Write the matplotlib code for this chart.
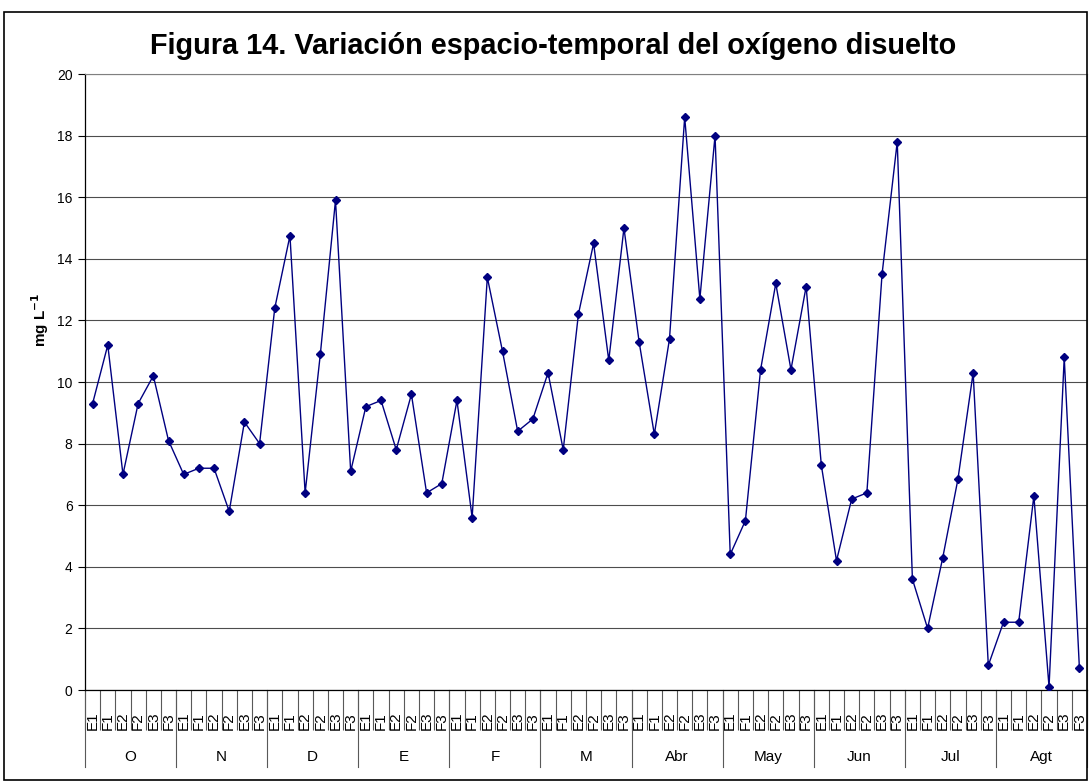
import numpy as np
import matplotlib
matplotlib.use('Agg')
import matplotlib.pyplot as plt
import matplotlib.transforms as mtrans
from matplotlib.patches import Rectangle

months = ['O', 'N', 'D', 'E', 'F', 'M', 'Abr', 'May', 'Jun', 'Jul', 'Agt']
stations = ['E1', 'F1', 'E2', 'F2', 'E3', 'F3']

oxygen_O = [9.3, 11.2, 7.0, 9.3, 10.2, 8.1]
oxygen_N = [7.0, 7.2, 7.2, 5.8, 8.7, 8.0]
oxygen_D = [12.4, 14.75, 6.4, 10.9, 15.9, 7.1]
oxygen_E = [9.2, 9.4, 7.8, 9.6, 6.4, 6.7]
oxygen_F = [9.4, 5.6, 13.4, 11.0, 8.4, 8.8]
oxygen_M = [10.3, 7.8, 12.2, 14.5, 10.7, 15.0]
oxygen_Abr = [11.3, 8.3, 11.4, 18.6, 12.7, 18.0]
oxygen_May = [4.4, 5.5, 10.4, 13.2, 10.4, 13.1]
oxygen_Jun = [7.3, 4.2, 6.2, 6.4, 13.5, 17.8]
oxygen_Jul = [3.6, 2.0, 4.3, 6.85, 10.3, 0.8]
oxygen_Agt = [2.2, 2.2, 6.3, 0.1, 10.8, 0.7]

yticks = [0, 2, 4, 6, 8, 10, 12, 14, 16, 18, 20]

oxygen = (oxygen_O + oxygen_N + oxygen_D + oxygen_E + oxygen_F + oxygen_M +
          oxygen_Abr + oxygen_May + oxygen_Jun + oxygen_Jul + oxygen_Agt)
cat_labels = stations * len(months)

plt.rcParams['font.family'] = ['Liberation Sans', 'DejaVu Sans']

W, H = 1089, 781
fig = plt.figure(figsize=(W / 100, H / 100), dpi=100)
ax_left, ax_right, ax_top, ax_bot = 85, 1087, 74, 690
ax = fig.add_axes([ax_left / W, (H - ax_bot) / H, (ax_right - ax_left) / W, (ax_bot - ax_top) / H])
axh = ax_bot - ax_top

n = len(oxygen)
x = np.arange(n) + 0.5
ax.plot(x, oxygen, color='#000080', lw=1.0, marker='D', ms=4.5,
        mfc='#000080', mec='#000080', zorder=3)

ax.set_xlim(0, n)
ax.set_ylim(0, 20)
ax.set_yticks(yticks)
ax.set_yticklabels([str(t) for t in yticks], fontsize=10)
ax.tick_params(axis='y', length=5, width=0.8, direction='out', pad=4)
ax.yaxis.grid(True, color='0.3', lw=0.8)
ax.set_axisbelow(True)

ax.set_xticks([])
ax.set_xticks(np.arange(n + 1), minor=True)
ax.tick_params(axis='x', which='minor', length=40 * 0.72, width=0.8, color='0.35', labelbottom=False)

for s in ['top', 'right']:
    ax.spines[s].set_color('0.5')
    ax.spines[s].set_linewidth(0.8)
for s in ['left', 'bottom']:
    ax.spines[s].set_color('black')
    ax.spines[s].set_linewidth(0.9)

trans = mtrans.blended_transform_factory(ax.transData, ax.transAxes)
for xi, lab in zip(x, cat_labels):
    ax.text(xi, -40 / axh, lab, rotation=90, ha='center', va='bottom',
            fontsize=11, transform=trans, clip_on=False)

nper = len(stations)
for i in range(len(months) + 1):
    b = i * nper
    ax.plot([b, b], [0, -77 / axh], transform=trans, clip_on=False,
            color='0.35', lw=0.8)
for i, m in enumerate(months):
    ax.text(i * nper + nper / 2, -(757 - ax_bot) / axh, m, ha='center', va='center',
            fontsize=11, transform=trans, clip_on=False)

fig.text(553 / W, 1 - 46 / H, 'Figura 14. Variación espacio-temporal del oxígeno disuelto',
         ha='center', va='center', fontsize=20.8, fontweight='bold')
fig.text(40 / W, 1 - 320 / H, r'mg L$^{\mathbf{-1}}$', rotation=90, ha='center', va='center',
         fontsize=11, fontweight='bold')

fig.patches.append(Rectangle((4 / W, 1 / H), (1087 - 4) / W, (780 - 12) / H,
                             transform=fig.transFigure, fill=False, ec='black', lw=1.2))

fig.savefig('out.png', dpi=100)
